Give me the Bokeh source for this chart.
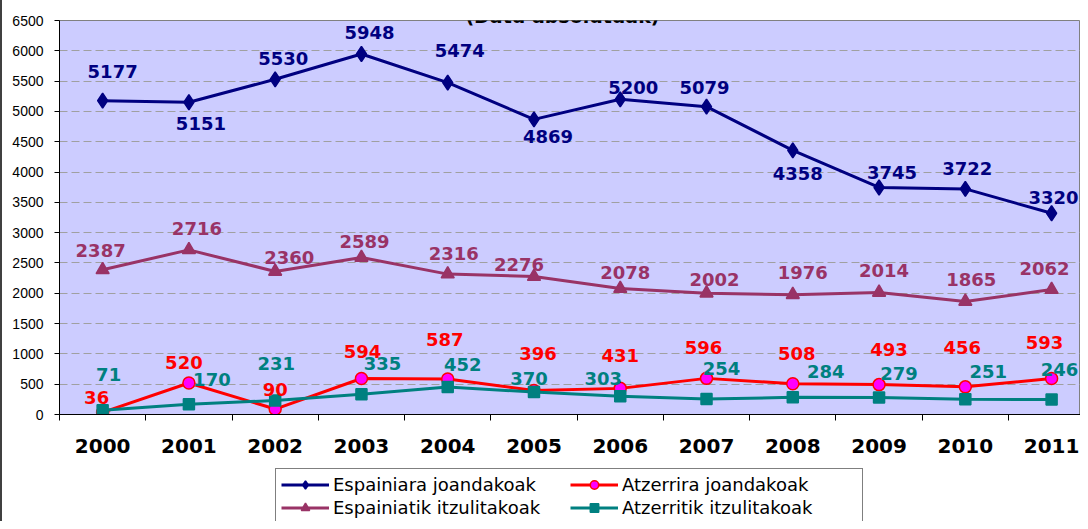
from bokeh.plotting import figure
from bokeh.layouts import column
from bokeh.models import (ColumnDataSource, FixedTicker, Legend, LegendItem,
                          Label, Range1d)
from bokeh.embed import file_html
from bokeh.resources import INLINE
from bokeh.core.properties import value

# ---- data ----
years = ["2000", "2001", "2002", "2003", "2004", "2005",
         "2006", "2007", "2008", "2009", "2010", "2011"]
espainiara = [5177, 5151, 5530, 5948, 5474, 4869, 5200, 5079, 4358, 3745, 3722, 3320]
atzerrira = [36, 520, 90, 594, 587, 396, 431, 596, 508, 493, 456, 593]
espainiatik = [2387, 2716, 2360, 2589, 2316, 2276, 2078, 2002, 1976, 2014, 1865, 2062]
atzerritik = [71, 170, 231, 335, 452, 370, 303, 254, 284, 279, 251, 246]
y_ticks = list(range(0, 6501, 500))
series_names = ["Espainiara joandakoak", "Atzerrira joandakoak",
                "Espainiatik itzulitakoak", "Atzerritik itzulitakoak"]
title_text = "(Datu absolutuak)"

# ---- label placement (screen px offsets from each point) ----
blue_dx = [10, 12, 8, 8, 12, 14, 13, -2, 5, 13, 2, 2]
blue_dy = [-29, 21, -21, -21, -32, 17, -12, -19, 23, -15, -20, -16]
purple_dx = [-2, 8, 14, 3, 6, -15, 5, 8, 10, 5, 6, -7]
purple_dy = [-19, -21, -14, -16, -21, -12, -16, -14, -22, -22, -22, -21]
red_dx = [-6, -5, 0, 1, -3, 4, 0, -3, 4, 10, -3, -7]
red_dy = [-15, -20, -20, -27, -39, -37, -33, -31, -30, -35, -39, -36]
teal_dx = [6, 23, 1, 21, 15, -5, -17, 15, 33, 20, 23, 8]
teal_dy = [-36, -25, -37, -31, -23, -14, -18, -31, -26, -24, -28, -30]

xs = list(range(len(years)))

W = 1078
H1 = 468
H2 = 53
p = figure(width=W, height=H1, output_backend="svg", toolbar_location=None,
           x_range=Range1d(-0.5, 11.335), y_range=Range1d(0, 6500),
           min_border_left=57, min_border_right=0, min_border_top=20,
           min_border_bottom=54)

p.background_fill_color = "#CCCCFF"
p.border_fill_color = "white"
p.outline_line_color = "#808080"
p.outline_line_width = 1

# axes
p.xaxis.ticker = FixedTicker(ticks=xs, minor_ticks=[i - 0.5 for i in range(len(years) + 1)])
p.xaxis.major_label_overrides = {i: y for i, y in enumerate(years)}
p.xaxis.major_tick_out = 0
p.xaxis.major_tick_in = 0
p.xaxis.minor_tick_out = 6
p.xaxis.minor_tick_in = 0
p.xaxis.minor_tick_line_color = "black"
p.xaxis.axis_line_color = "black"
p.xaxis.major_label_text_font = "DejaVu Sans"
p.xaxis.major_label_text_font_style = "bold"
p.xaxis.major_label_text_font_size = "20px"
p.xaxis.major_label_text_color = "black"
p.xaxis.major_label_standoff = 18

p.yaxis.ticker = FixedTicker(ticks=y_ticks)
p.yaxis.minor_tick_line_color = None
p.yaxis.major_tick_out = 5
p.yaxis.major_tick_in = 0
p.yaxis.axis_line_color = "black"
p.yaxis.major_label_text_font = "Liberation Sans"
p.yaxis.major_label_text_font_size = "14px"
p.yaxis.major_label_text_color = "black"
p.yaxis.major_label_standoff = 11

p.xgrid.grid_line_color = None
p.ygrid.grid_line_color = "#A0A0A0"
p.ygrid.grid_line_dash = "8 4"
p.ygrid.grid_line_width = 1

# (values, line colour, marker, size, fill, marker line, dx, dy)
styles = {
    "blue": (espainiara, "#000080", "diamond", 15, "#000080", "#000080", blue_dx, blue_dy),
    "red": (atzerrira, "#FF0000", "circle", 12, "#FF00FF", "#FF0000", red_dx, red_dy),
    "purple": (espainiatik, "#993366", "triangle", 13, "#993366", "#993366", purple_dx, purple_dy),
    "teal": (atzerritik, "#008080", "square", 11, "#008080", "#008080", teal_dx, teal_dy),
}
legend_order = ["blue", "red", "purple", "teal"]
draw_order = ["blue", "purple", "red", "teal"]

for key in draw_order:
    vals, lc, mk, sz, fc, mlc, dx, dy = styles[key]
    src = ColumnDataSource(dict(x=xs, y=vals))
    p.line("x", "y", source=src, line_color=lc, line_width=3)
    p.scatter("x", "y", source=src, marker=mk, size=sz, fill_color=fc,
              line_color=mlc, line_width=1.5)
for key in draw_order:
    vals, lc, mk, sz, fc, mlc, dx, dy = styles[key]
    src = ColumnDataSource(dict(x=xs, y=vals, t=[str(v) for v in vals], dx=dx, dy=dy))
    p.text("x", "y", text="t", source=src, x_offset="dx", y_offset="dy",
           text_align="center", text_baseline="middle",
           text_font=value("DejaVu Sans"), text_font_style="bold",
           text_font_size="18px", text_color=lc)

title = Label(x=5.33, y=6575, text=title_text, text_align="center",
              text_baseline="alphabetic", text_font="DejaVu Sans",
              text_font_style="bold", text_font_size="19px", text_color="black")
p.add_layout(title)

# ---- legend strip below the chart ----
p2 = figure(width=W, height=H2, output_backend="svg", toolbar_location=None,
            x_range=Range1d(0, W), y_range=Range1d(0, H2),
            min_border_left=0, min_border_right=0, min_border_top=0,
            min_border_bottom=0)
p2.axis.visible = False
p2.grid.grid_line_color = None
p2.outline_line_color = None
p2.background_fill_color = "white"
p2.border_fill_color = "white"

items = []
for i, key in enumerate(legend_order):
    vals, lc, mk, sz, fc, mlc, dx, dy = styles[key]
    dsrc = ColumnDataSource(dict(x=[-1000], y=[-1000]))
    lr = p2.line("x", "y", source=dsrc, line_color=lc, line_width=3)
    sr = p2.scatter("x", "y", source=dsrc, marker=mk, size=sz, fill_color=fc,
                    line_color=mlc, line_width=1.5)
    items.append(LegendItem(label=series_names[i], renderers=[lr, sr]))

legend = Legend(items=items, orientation="horizontal", ncols=2,
                location=(216, -3))
legend.label_text_font = "DejaVu Sans"
legend.label_text_font_size = "18px"
legend.label_text_color = "black"
legend.glyph_width = 48
legend.glyph_height = 21
legend.label_height = 21
legend.label_width = 235
legend.label_standoff = 4
legend.spacing = 2
legend.padding = 5
legend.margin = 0
legend.border_line_color = "black"
legend.border_line_width = 1
legend.background_fill_color = "white"
legend.background_fill_alpha = 1
p2.add_layout(legend, "center")

layout = column(p, p2, spacing=0)
layout.styles = {"border-left": "2px solid #404040"}
open("out.html", "w").write(file_html(layout, INLINE))
